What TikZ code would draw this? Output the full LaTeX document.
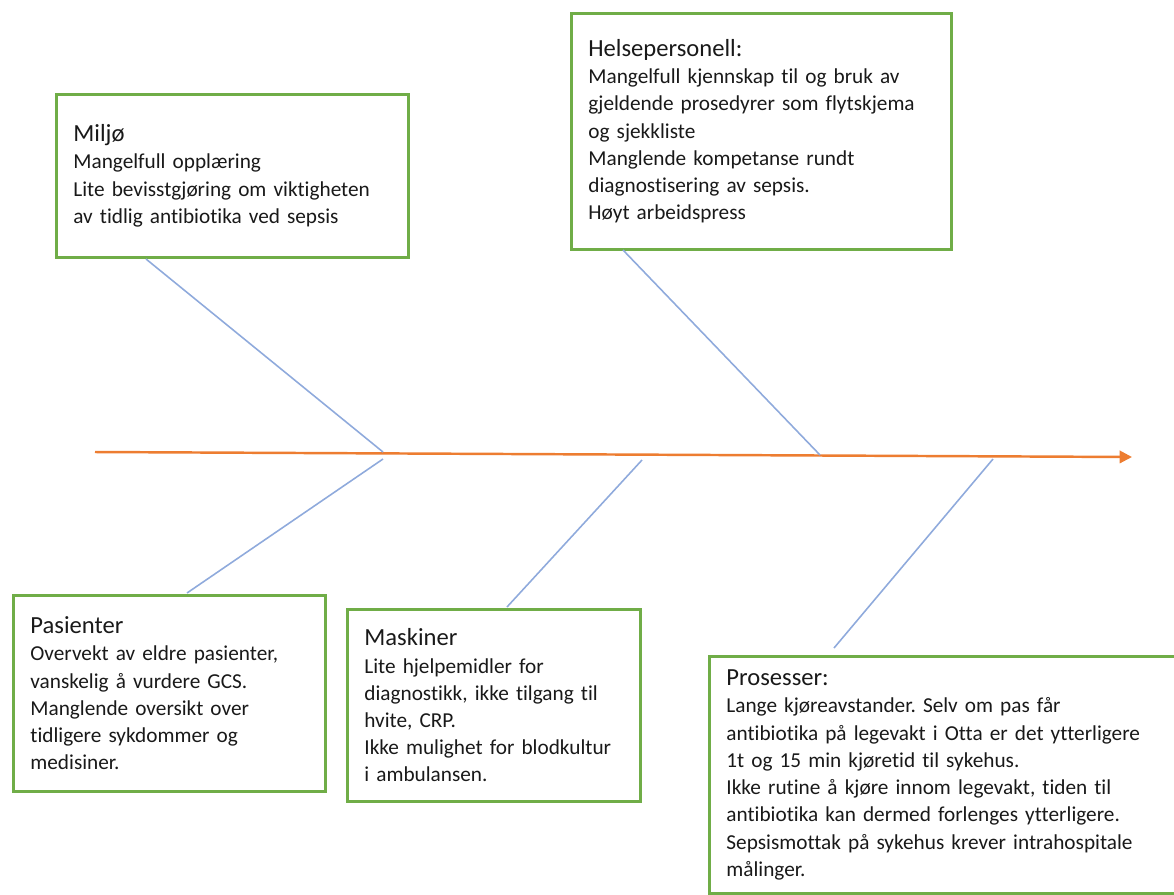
\documentclass[tikz,border=0pt]{standalone}
\usepackage{fontspec}
\setmainfont{Carlito}[Ligatures=CommonOff]
\usepackage{xcolor}
\usepackage{tikz}
\usetikzlibrary{arrows.meta}

\definecolor{boxgreen}{HTML}{70AD47}
\definecolor{boneblue}{HTML}{8FAADC}
\definecolor{spineorange}{HTML}{ED7D31}
\frenchspacing

\begin{document}
\begin{tikzpicture}[x=0.02cm, y=-0.02cm,
    cause/.style={draw=boxgreen, line width=1.6pt, anchor=north west, align=left,
        inner xsep=0.34cm, inner ysep=0pt, font=\fontsize{12.1}{15.5}\selectfont},
    bone/.style={draw=boneblue, line width=0.9pt},
    every node/.style={text=black!90}]
    \useasboundingbox (0,0) rectangle (1174,894);

    % Spine
    \coordinate (tail) at (95,452);
    \coordinate (head) at (1132,457);
    \draw[spineorange, line width=1.4pt, -{Triangle[length=7pt,width=7pt]}] (tail) -- (head);

    % Cause boxes above the spine
    \node[cause, text width=6.36cm, minimum height=3.26cm] (miljo) at (55,93)
        {{\fontsize{14}{17}\selectfont Miljø}\\
         Mangelfull opplæring\\
         Lite bevisstgjøring om viktigheten\\
         av tidlig antibiotika ved sepsis};
    \node[cause, text width=6.92cm, minimum height=4.72cm] (helse) at (570,12)
        {{\fontsize{14}{17}\selectfont Helsepersonell:}\\
         Mangelfull kjennskap til og bruk av\\
         gjeldende prosedyrer som flytskjema\\
         og sjekkliste\\
         Manglende kompetanse rundt\\
         diagnostisering av sepsis.\\
         Høyt arbeidspress};

    % Cause boxes below the spine
    \node[cause, text width=5.56cm, minimum height=3.92cm] (pasient) at (12,594)
        {{\fontsize{14}{17}\selectfont Pasienter}\\
         Overvekt av eldre pasienter,\\
         vanskelig å vurdere GCS.\\
         Manglende oversikt over\\
         tidligere sykdommer og\\
         medisiner.};
    \node[cause, text width=5.18cm, minimum height=3.84cm] (maskin) at (346,608)
        {{\fontsize{14}{17}\selectfont Maskiner}\\
         Lite hjelpemidler for\\
         diagnostikk, ikke tilgang til\\
         hvite, CRP.\\
         Ikke mulighet for blodkultur\\
         i ambulansen.};
    \node[cause, text width=8.96cm, minimum height=4.74cm] (prosess) at (708,655)
        {{\fontsize{14}{17}\selectfont Prosesser:}\\
         Lange kjøreavstander. Selv om pas får\\
         antibiotika på legevakt i Otta er det ytterligere\\
         1t og 15 min kjøretid til sykehus.\\
         Ikke rutine å kjøre innom legevakt, tiden til\\
         antibiotika kan dermed forlenges ytterligere.\\
         Sepsismottak på sykehus krever intrahospitale\\
         målinger.};

    % Bones
    \coordinate (m1) at (146,259);
    \coordinate (m2) at (383,452);
    \coordinate (h1) at (623,250);
    \coordinate (h2) at (820,455);
    \coordinate (p1) at (383,459);
    \coordinate (p2) at (187,593);
    \coordinate (k1) at (642,460);
    \coordinate (k2) at (507,607);
    \coordinate (s1) at (993,459);
    \coordinate (s2) at (834,648);
    \foreach \a/\b in {m1/m2, h1/h2, p1/p2, k1/k2, s1/s2} {
        \draw[bone] (\a) -- (\b);
    }
\end{tikzpicture}
\end{document}
